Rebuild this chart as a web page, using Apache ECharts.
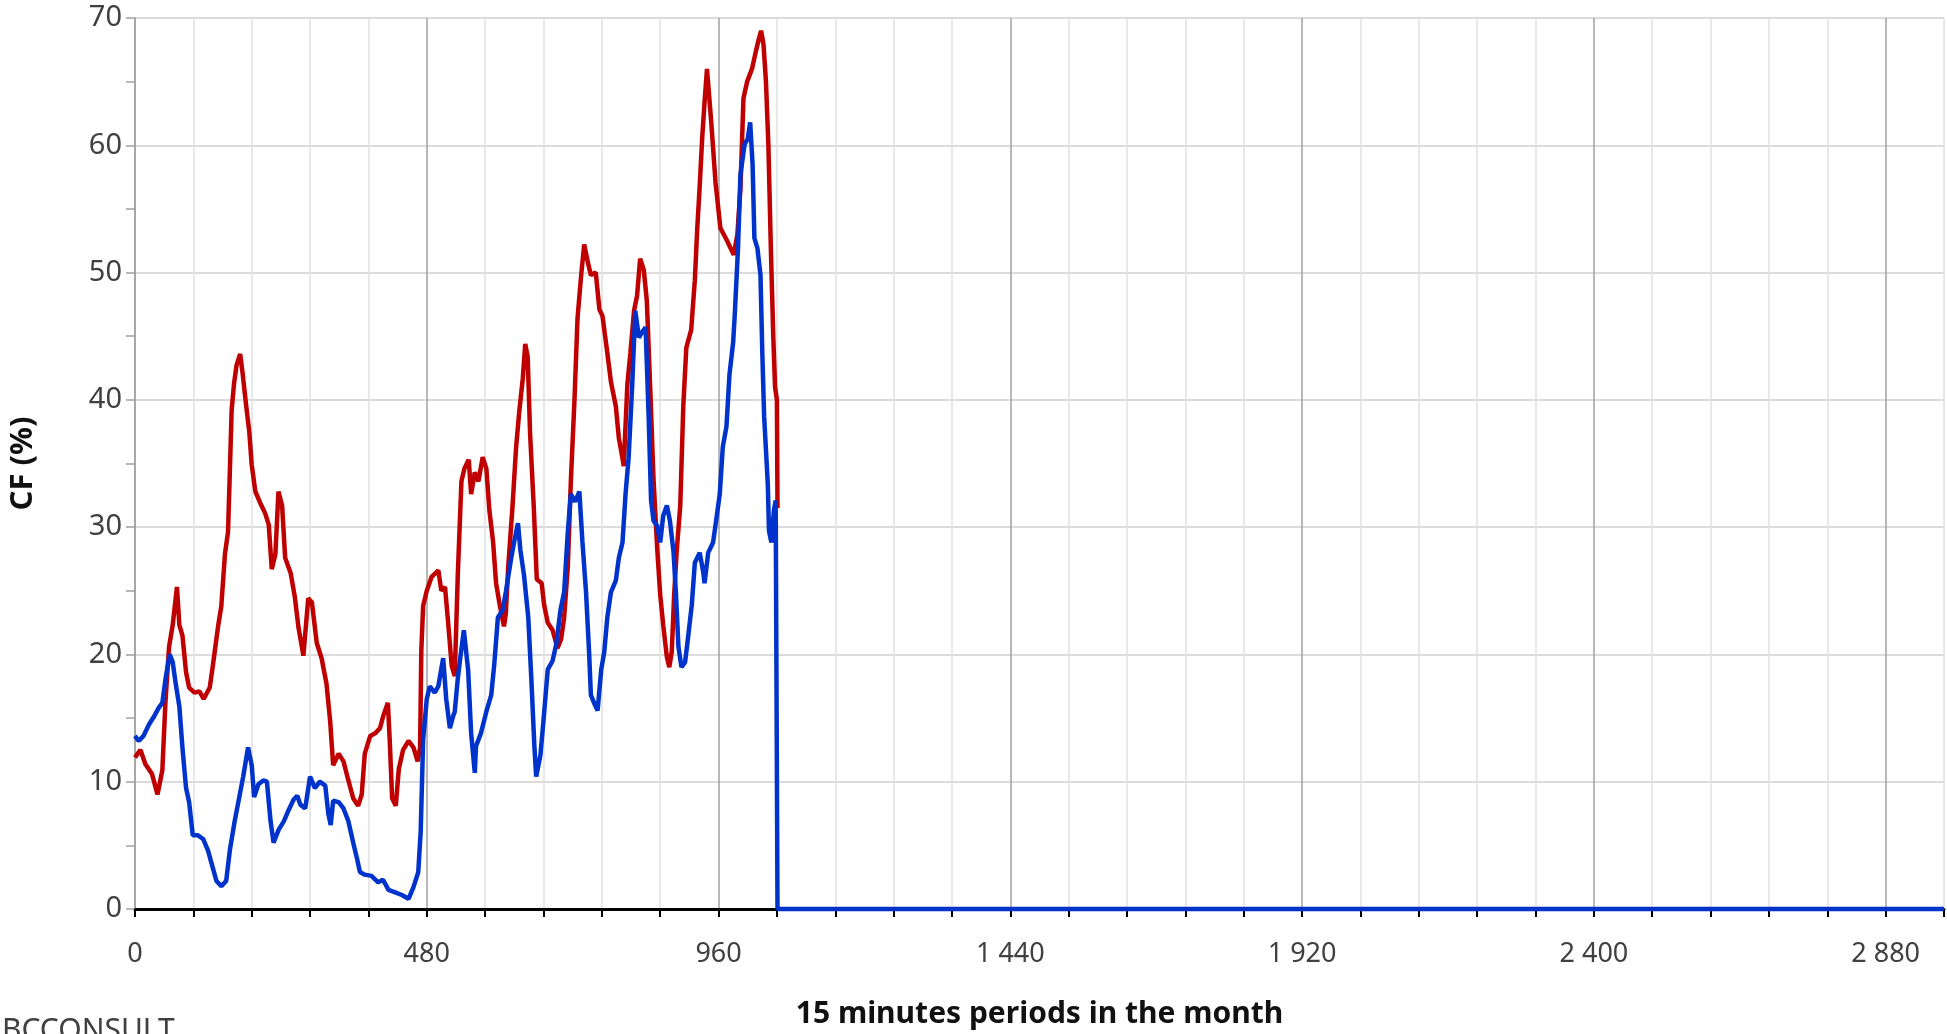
<!DOCTYPE html>
<html><head><meta charset="utf-8">
<script src="https://cdn.jsdelivr.net/npm/echarts@6/dist/echarts.min.js"></script>
<style>html,body{margin:0;padding:0;background:#fff;overflow:hidden}#c{width:1947px;height:1034px}</style>
</head><body><div id="c"></div>
<script>
// x extent: 31 days x 96 quarter-hours
const xMax = 2976;
const xLabelValues = [0, 480, 960, 1440, 1920, 2400, 2880];
const yTicks = [0, 10, 20, 30, 40, 50, 60, 70];

// red series: [period, CF %]
const redCF = [
[0,11.9],[9,12.5],[17,11.4],[28,10.6],[37,9.0],[45,10.9],[50,16.2],[56,20.6],[62,22.3],[69,25.3],
[73,22.3],[78,21.5],[84,18.6],[89,17.4],[98,17.0],[106,17.1],[113,16.5],[123,17.4],[128,19.1],[137,22.3],
[142,23.8],[148,27.9],[153,29.6],[156,34.3],[159,39.2],[163,41.3],[167,42.7],[173,43.6],[177,42.1],[183,39.5],
[188,37.5],[192,34.9],[198,32.8],[206,31.9],[214,31.1],[220,30.2],[225,26.7],[231,27.9],[236,32.8],[242,31.7],
[247,27.6],[256,26.4],[263,24.5],[269,22.1],[277,19.9],[285,24.4],[291,24.1],[299,20.9],[307,19.7],[315,17.7],
[321,14.8],[326,11.3],[335,12.2],[343,11.6],[351,10.1],[359,8.7],[367,8.1],[373,9.0],[378,12.2],[387,13.6],
[395,13.8],[403,14.2],[408,15.1],[416,16.2],[419,13.3],[423,8.7],[429,8.1],[434,11.0],[441,12.5],[450,13.2],
[458,12.7],[465,11.6],[469,12.7],[471,20.3],[474,23.8],[480,25.0],[488,26.1],[499,26.6],[504,25.0],[510,25.3],
[515,22.6],[521,19.1],[526,18.3],[531,26.2],[537,33.6],[542,34.6],[549,35.3],[553,32.6],[559,34.3],[565,33.6],
[572,35.5],[578,34.6],[583,31.3],[589,28.9],[594,25.6],[600,23.9],[607,22.2],[610,23.2],[614,26.9],[621,31.6],
[627,36.3],[632,39.0],[638,41.7],[642,44.4],[646,43.4],[650,37.3],[656,31.6],[661,25.9],[669,25.6],[673,23.9],
[679,22.5],[687,21.9],[695,20.5],[701,21.2],[706,22.9],[712,26.9],[717,33.6],[723,40.0],[728,46.4],[734,49.8],
[739,52.2],[745,50.8],[750,49.8],[758,50.0],[764,47.1],[769,46.6],[777,43.7],[783,41.4],[791,39.5],[796,37.0],
[802,35.4],[804,34.8],[810,41.2],[815,43.7],[821,47.0],[826,48.2],[831,51.1],[837,50.2],[842,47.8],[848,40.4],
[853,33.8],[859,28.4],[864,24.7],[869,22.3],[875,19.8],[879,19.0],[883,20.2],[887,24.7],[891,28.0],[897,31.7],
[902,39.5],[907,44.1],[915,45.5],[921,49.4],[925,53.5],[929,56.8],[933,60.5],[937,63.4],[941,66.0],[948,61.8],
[955,57.1],[963,53.5],[974,52.5],[985,51.4],[991,53.0],[996,56.6],[1001,63.7],[1007,65.0],[1015,66.0],[1021,67.3],
[1026,68.3],[1030,69.0],[1034,67.9],[1038,65.0],[1042,60.0],[1046,52.0],[1050,45.0],[1053,41.0],[1056,40.0],[1057,31.5]
];

// blue series: [period, CF %]
const blueCF = [
[0,13.6],[6,13.2],[14,13.6],[23,14.5],[31,15.1],[39,15.8],[45,16.2],[50,18.0],[57,20.0],[62,19.4],
[67,17.7],[73,15.9],[78,12.7],[84,9.5],[89,8.4],[95,5.8],[103,5.8],[112,5.5],[120,4.6],[127,3.4],
[134,2.2],[142,1.8],[150,2.2],[156,4.6],[164,6.9],[170,8.4],[178,10.4],[186,12.7],[192,11.3],[196,8.8],
[203,9.8],[211,10.1],[217,10.0],[223,6.9],[228,5.2],[236,6.2],[245,6.9],[253,7.8],[261,8.6],[267,8.9],
[272,8.2],[280,7.9],[288,10.4],[296,9.5],[304,10.0],[313,9.7],[318,7.5],[322,6.6],[326,8.5],[335,8.4],
[343,7.9],[351,6.9],[359,5.2],[365,4.0],[370,2.9],[378,2.7],[389,2.6],[400,2.1],[408,2.3],[417,1.5],
[428,1.3],[439,1.1],[450,0.8],[458,1.7],[466,2.9],[470,6.1],[474,13.3],[480,16.5],[485,17.5],[493,17.0],
[499,17.5],[507,19.7],[512,16.5],[518,14.2],[523,15.1],[526,15.5],[531,18.1],[535,19.7],[541,21.9],[548,18.8],
[553,13.8],[559,10.7],[561,12.8],[569,13.8],[578,15.5],[586,16.8],[591,19.2],[597,22.9],[605,23.5],[610,24.9],
[619,27.6],[624,28.9],[630,30.3],[634,28.2],[640,26.2],[647,22.9],[652,18.1],[657,12.8],[660,10.4],[667,12.1],
[672,14.8],[679,18.8],[687,19.5],[693,20.8],[700,23.5],[706,24.9],[712,29.6],[717,32.6],[724,32.0],[731,32.8],
[736,28.9],[742,24.9],[747,20.2],[750,16.8],[756,16.1],[761,15.6],[767,18.8],[772,20.2],[777,22.9],[783,24.9],
[791,25.8],[796,27.6],[802,28.8],[807,32.6],[812,35.4],[818,41.2],[823,47.0],[829,44.9],[834,45.3],[840,45.7],
[845,38.7],[849,32.1],[853,30.5],[859,30.1],[864,28.8],[869,30.9],[875,31.7],[880,30.5],[886,28.0],[890,24.7],
[894,20.6],[899,19.0],[905,19.4],[910,21.4],[916,23.9],[921,27.2],[929,28.0],[935,26.4],[937,25.6],[943,28.0],
[951,28.8],[956,30.5],[962,32.6],[967,36.3],[973,37.9],[978,42.0],[984,44.5],[987,47.0],[992,51.9],[996,57.7],
[1003,60.1],[1008,60.5],[1012,61.8],[1016,58.5],[1019,52.7],[1024,51.9],[1029,49.8],[1032,43.7],[1035,38.7],[1041,33.4],
[1043,29.7],[1047,28.8],[1051,31.3],[1054,32.1],[1056,32.0],[1057,0],[2976,0]
];

const FONT = '"Noto Sans", "Open Sans", sans-serif';
function fmtThousands(v){ return String(v).replace(/\B(?=(\d{3})+(?!\d))/g, ' '); }

const chart = echarts.init(document.getElementById('c'), null, {renderer:'canvas'});
chart.setOption({
  animation: false,
  backgroundColor: '#fff',
  textStyle: {fontFamily: FONT},
  grid: {left: 134, top: 18, right: 2, bottom: 123, containLabel: false},
  xAxis: {
    type: 'value', min: 0, max: xMax, interval: 96,
    name: '15 minutes periods in the month', nameLocation: 'middle', nameGap: 90,
    nameTextStyle: {fontFamily: FONT, fontWeight: 'bold', fontSize: 30, color: '#111'},
    axisLine: {show: true, onZero: false, lineStyle: {color: '#000', width: 3}},
    axisTick: {show: true, length: 8, lineStyle: {color: '#000', width: 2}},
    axisLabel: {
      show: true, margin: 32, fontSize: 27, color: '#404040', fontFamily: FONT,
      showMinLabel: true, showMaxLabel: true,
      formatter: function (v) { return xLabelValues.indexOf(v) >= 0 ? fmtThousands(v) : ''; }
    },
    splitLine: {show: true, lineStyle: {color: ['#a0a0a0', '#e0e0e0', '#e0e0e0', '#e0e0e0', '#e0e0e0'], width: 1.5}}
  },
  yAxis: {
    type: 'value', min: yTicks[0], max: yTicks[yTicks.length - 1], interval: 10,
    name: 'CF (%)', nameLocation: 'middle', nameGap: 96, nameRotate: 90,
    nameTextStyle: {fontFamily: FONT, fontWeight: 'bold', fontSize: 31, color: '#111'},
    axisLine: {show: true, lineStyle: {color: '#a0a0a0', width: 1.5}},
    axisTick: {show: true, length: 9, lineStyle: {color: '#a0a0a0', width: 1.5}},
    minorTick: {show: true, splitNumber: 2, length: 9, lineStyle: {color: '#a0a0a0', width: 1.5}},
    splitLine: {show: true, lineStyle: {color: '#cfcfcf', width: 1.5}},
    axisLabel: {margin: 13, fontSize: 29, color: '#404040', fontFamily: FONT}
  },
  graphic: [{
    type: 'text', left: 2, top: 1016,
    style: {text: 'BCCONSULT', font: '30px "Noto Sans", sans-serif', fill: '#404040'}
  }],
  series: [
    {type: 'line', data: redCF, showSymbol: false, clip: false, z: 2,
     lineStyle: {color: '#c00000', width: 4.5}, itemStyle: {color: '#c00000'}},
    {type: 'line', data: blueCF, showSymbol: false, clip: false, z: 3,
     lineStyle: {color: '#0033cc', width: 4.5}, itemStyle: {color: '#0033cc'}}
  ]
});
</script>
</body></html>
